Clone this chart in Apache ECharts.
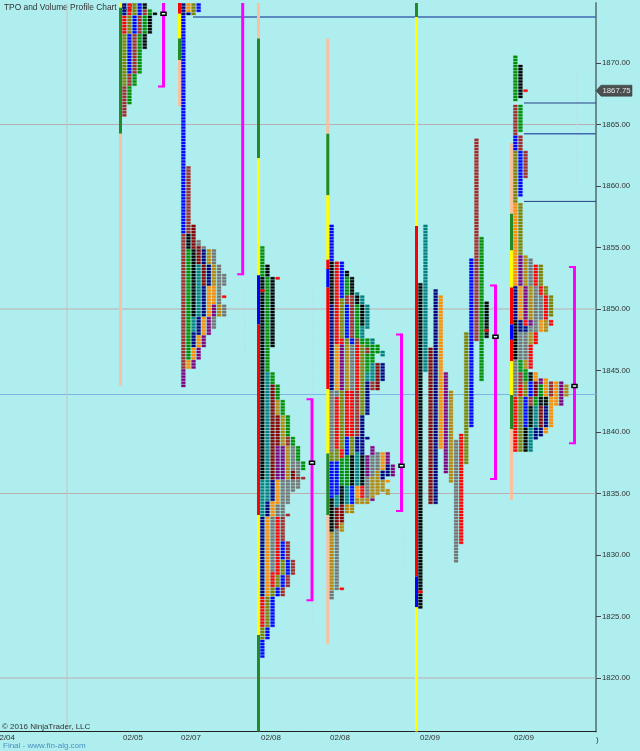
<!DOCTYPE html>
<html lang="en">

<head>
    <meta charset="UTF-8">
    <title>TPO and Volume Profile Chart</title>
    <script src="https://cdn.jsdelivr.net/npm/echarts@6/dist/echarts.min.js"></script>
    <style>
        html, body { margin: 0; padding: 0; background: #afeeee; }
    </style>
</head>

<body>
    <div id="chart" style="width: 640px;height: 751px;"></div>

    <script>
        const chartTitle = 'TPO and Volume Profile Chart (v.2)';
        const copyrightText = '© 2016 NinjaTrader, LLC';
        const footerText = 'Final - www.fin-alg.com';

        // axis labels
        const priceTicks = [1820, 1825, 1830, 1835, 1840, 1845, 1850, 1855, 1860, 1865, 1870];
        const dateTicks = [5, 133, 191, 271, 340, 430, 524];
        const dateLabels = ['02/04', '02/05', '02/07', '02/08', '02/08', '02/09', '02/09'];
        const lastPrice = 1867.75;

        // where each session starts on the x axis
        const sessionStart = [122, 181, 260, 329.3, 418, 513];

        // TPO columns, each column is a list of [period, high, low]
        const session1 = [
            [['navy', 1874.75, 1874], ['red', 1873.75, 1872.5], ['olive', 1872.25, 1868.25], ['brown', 1868, 1865.75]],
            [['red', 1874.75, 1874], ['olive', 1873.75, 1872.5], ['blue', 1872.25, 1869.25], ['brown', 1869, 1868.25], ['green', 1868, 1866.75]],
            [['olive', 1874.75, 1874], ['blue', 1873.75, 1872.5], ['brown', 1872.25, 1869.25], ['green', 1869, 1868.25]],
            [['blue', 1874.75, 1874], ['brown', 1873.75, 1872.5], ['green', 1872.25, 1869.25]],
            [['black', 1874.75, 1874.5], ['brown', 1874.25, 1874], ['green', 1873.75, 1872.5], ['black', 1872.25, 1871.25]],
            [['green', 1874.25, 1874], ['black', 1873.75, 1872.5]],
            [['black', 1874, 1874]]
        ];
        const session2 = [
            [['navy', 1874.75, 1874], ['blue', 1873.75, 1856.25], ['brown', 1856, 1845.25], ['purple', 1845, 1843.75]],
            [['orange', 1874.75, 1874.25], ['navy', 1874, 1874], ['brown', 1861.5, 1856.25], ['black', 1856, 1855], ['green', 1854.75, 1846], ['orange', 1845.75, 1845.25]],
            [['olive', 1874.75, 1874], ['darkred', 1856.75, 1855], ['black', 1854.75, 1849.5], ['teal', 1849.25, 1848.25], ['navy', 1848, 1847], ['orange', 1846.75, 1846], ['purple', 1845.75, 1845.25]],
            [['blue', 1874.75, 1874.25], ['gray', 1855.5, 1855.25], ['darkred', 1855, 1853.75], ['teal', 1853.5, 1849.5], ['navy', 1849.25, 1848], ['orange', 1847.75, 1847], ['purple', 1846.75, 1846]],
            [['gray', 1855, 1855], ['navy', 1854.75, 1853.75], ['darkred', 1853.5, 1852], ['navy', 1851.75, 1849.5], ['orange', 1849.25, 1848], ['purple', 1847.75, 1847]],
            [['gold', 1854.75, 1853.75], ['navy', 1853.5, 1852], ['orange', 1851.75, 1849.5], ['purple', 1849.25, 1848]],
            [['gray', 1854.75, 1853.75], ['gold', 1853.5, 1852], ['orange', 1851.75, 1850.5], ['purple', 1850.25, 1849.5], ['gray', 1849.25, 1848.5]],
            [['gray', 1853.5, 1850.5], ['gold', 1850.25, 1849.5]],
            [['gray', 1852.75, 1852], ['red', 1851, 1851], ['gray', 1850.25, 1849.5]]
        ];
        const session3 = [
            [['green', 1855, 1852.75], ['black', 1852.5, 1836.25], ['teal', 1836, 1833.25], ['navy', 1833, 1826.75], ['red', 1826.5, 1824.25], ['olive', 1824, 1823.25], ['blue', 1823, 1821.75], ['red', 1851.5, 1851.5]],
            [['black', 1853.5, 1852.75], ['green', 1852.5, 1845], ['teal', 1844.75, 1834.5], ['navy', 1834.25, 1833.25], ['orange', 1833, 1826.75], ['olive', 1826.5, 1824.25], ['blue', 1824, 1823.25]],
            [['black', 1852.5, 1847], ['green', 1844.75, 1844], ['darkred', 1843.75, 1836.25], ['navy', 1836, 1834.5], ['orange', 1834.25, 1833.25], ['gray', 1833, 1828.75], ['red', 1828.5, 1827.5], ['olive', 1827.25, 1826.75], ['blue', 1826.5, 1824.25]],
            [['red', 1852.5, 1852.5], ['green', 1843.75, 1842.75], ['gold', 1842.5, 1841.5], ['darkred', 1841.25, 1839], ['purple', 1838.75, 1836.25], ['orange', 1836, 1834.25], ['gray', 1834, 1833.25], ['red', 1833, 1828.5], ['olive', 1828.25, 1827.5], ['blue', 1827.25, 1826.75]],
            [['green', 1842.5, 1841.5], ['gold', 1841.25, 1839], ['purple', 1838.75, 1836.25], ['gray', 1836, 1833.25], ['brown', 1833, 1831.25], ['blue', 1831, 1829.75], ['olive', 1829.5, 1828.5], ['blue', 1828.25, 1827.5], ['brown', 1827.25, 1826.75]],
            [['green', 1841.25, 1839.75], ['brown', 1839.5, 1839], ['gold', 1838.75, 1836.25], ['gray', 1836, 1834.25], ['brown', 1833.25, 1833.25], ['brown', 1831, 1829.75], ['blue', 1829.5, 1828.5], ['brown', 1828.25, 1827.5]],
            [['green', 1839.5, 1839], ['gray', 1838.75, 1837], ['darkred', 1836.75, 1836.25], ['gray', 1836, 1835.25], ['brown', 1829.5, 1828.5]],
            [['green', 1838.75, 1837.75], ['gray', 1837.5, 1836.5], ['brown', 1836.25, 1836.25], ['gray', 1836, 1835.5]],
            [['green', 1837.5, 1837], ['brown', 1836.25, 1836.25]]
        ];
        const session4 = [
            [['blue', 1856.75, 1854], ['black', 1853.75, 1850.5], ['navy', 1850.25, 1843.5], ['gray', 1843.25, 1838.5], ['olive', 1838.25, 1837.75], ['blue', 1837.5, 1834.75], ['black', 1834.5, 1832], ['gold', 1831.75, 1827.25], ['gray', 1827, 1826.5]],
            [['red', 1853.75, 1847.25], ['orange', 1847, 1843.5], ['gray', 1843.25, 1843], ['red', 1842.75, 1838.75], ['olive', 1838.5, 1837.75], ['blue', 1837.5, 1835], ['teal', 1834.75, 1834], ['darkred', 1833.75, 1832.25], ['gray', 1832, 1827.25]],
            [['blue', 1853.75, 1851], ['olive', 1850.75, 1847.75], ['red', 1847.5, 1847.25], ['purple', 1847, 1843.5], ['olive', 1843.25, 1838.75], ['red', 1838.5, 1838], ['green', 1837.75, 1835.75], ['black', 1835.5, 1834.25], ['darkred', 1834, 1832.75], ['gold', 1832.5, 1832], ['red', 1827.25, 1827.25]],
            [['black', 1853, 1852.75], ['green', 1852.5, 1851.25], ['brown', 1851, 1850.5], ['blue', 1850.25, 1847.75], ['olive', 1847.5, 1847.25], ['gold', 1847, 1843.5], ['red', 1843.25, 1839.75], ['blue', 1839.5, 1838.25], ['green', 1838, 1835.75], ['teal', 1835.5, 1834.25], ['gold', 1834, 1833.5]],
            [['black', 1852.5, 1851.25], ['brown', 1851, 1847.75], ['blue', 1847.5, 1847.25], ['gray', 1847, 1843.5], ['red', 1843.25, 1839.75], ['olive', 1839.5, 1838.25], ['black', 1838, 1835.75], ['blue', 1835.5, 1834.25], ['gold', 1834, 1833.5]],
            [['teal', 1851.25, 1851.25], ['black', 1851, 1850.5], ['green', 1850.25, 1847.75], ['brown', 1847.5, 1847.25], ['red', 1847, 1843.5], ['brown', 1843.25, 1839.75], ['navy', 1839.5, 1838.5], ['teal', 1838.25, 1835.75], ['orange', 1835.5, 1834.75], ['gold', 1834.5, 1834.25]],
            [['teal', 1851, 1850.5], ['black', 1850.25, 1848.75], ['teal', 1848.5, 1847.75], ['green', 1847.5, 1847.25], ['olive', 1847, 1841.5], ['navy', 1841.25, 1838.25], ['black', 1838, 1835.75], ['red', 1835.5, 1834.75], ['gold', 1834.5, 1834.25]],
            [['teal', 1850.25, 1848.5], ['green', 1847.5, 1847], ['brown', 1846.75, 1846.5], ['green', 1846.25, 1845], ['teal', 1844.75, 1844.25], ['navy', 1844, 1841.5], ['navy', 1839.5, 1839.5], ['purple', 1838, 1836.5], ['gray', 1836.25, 1834.75], ['gold', 1834.5, 1834.25]],
            [['teal', 1847.5, 1847.25], ['green', 1847, 1845.75], ['teal', 1845.5, 1844.25], ['brown', 1844, 1843.5], ['purple', 1838.75, 1838.25], ['gray', 1838, 1836.5], ['gold', 1836.25, 1834.75], ['purple', 1834.5, 1834.5]],
            [['green', 1847, 1846.5], ['darkred', 1845.5, 1843.5], ['gray', 1838.25, 1837], ['gold', 1836.75, 1835]],
            [['teal', 1846.5, 1846.25], ['navy', 1845.5, 1844.25], ['orange', 1838.25, 1837], ['navy', 1836.75, 1836.25], ['gold', 1836, 1835.25]],
            [['purple', 1838.25, 1837.5], ['navy', 1837.25, 1836.5], ['orange', 1836, 1836], ['gold', 1835.25, 1835]],
            [['purple', 1837.25, 1836.5]]
        ];
        const session5 = [
            [['black', 1852, 1825.75], ['red', 1827, 1827]],
            [['teal', 1856.75, 1845]],
            [['darkred', 1846.75, 1834.25]],
            [['navy', 1851.5, 1834.25]],
            [['orange', 1851, 1838.75]],
            [['purple', 1844.75, 1836.75]],
            [['gold', 1843.25, 1836]],
            [['gray', 1839.25, 1829.5]],
            [['red', 1839.75, 1831]],
            [['olive', 1848, 1837.5]],
            [['blue', 1854, 1840.5]],
            [['brown', 1863.75, 1847.5]],
            [['green', 1855.75, 1844.25]],
            [['black', 1850.5, 1847.75], ['red', 1848.25, 1848.25]]
        ];
        const session6 = [
            [['green', 1870.5, 1867], ['brown', 1866.5, 1864.25], ['blue', 1864, 1863], ['olive', 1862.75, 1858.75], ['orange', 1858.5, 1852], ['navy', 1851.75, 1849.25], ['black', 1849, 1846], ['gray', 1845.75, 1843], ['red', 1842.75, 1838.5]],
            [['black', 1869.75, 1867.25], ['green', 1866.5, 1864.5], ['brown', 1864, 1863], ['blue', 1862.75, 1859.25], ['olive', 1858.5, 1854.5], ['purple', 1854.25, 1852], ['orange', 1851.75, 1849.25], ['navy', 1849, 1848.25], ['gray', 1848, 1846], ['green', 1845.75, 1845], ['brown', 1844.75, 1844], ['red', 1843.75, 1843], ['olive', 1842.75, 1838.5]],
            [['red', 1867.75, 1867.75], ['brown', 1862.75, 1860.75], ['gold', 1854.25, 1852], ['purple', 1851.75, 1849.25], ['red', 1849, 1848.75], ['navy', 1848.5, 1848.25], ['gray', 1848, 1846], ['gold', 1845.75, 1845.25], ['green', 1845, 1844.25], ['olive', 1844, 1843], ['blue', 1842.75, 1840.5], ['black', 1840.25, 1838.5]],
            [['gray', 1854, 1852], ['gold', 1851.75, 1849.25], ['purple', 1849, 1848.75], ['gray', 1848.5, 1848.25], ['gold', 1848, 1847.25], ['red', 1847, 1845.25], ['black', 1844.75, 1844.25], ['blue', 1844, 1843], ['brown', 1842.75, 1842.25], ['black', 1842, 1840.5], ['teal', 1840.25, 1838.5]],
            [['red', 1853.5, 1852], ['gray', 1851.75, 1848.25], ['red', 1848, 1847.25], ['orange', 1844.75, 1844.25], ['darkred', 1844, 1843], ['green', 1842.75, 1842.25], ['teal', 1842, 1840.5], ['navy', 1840.25, 1839.5]],
            [['olive', 1853.5, 1852], ['red', 1851.75, 1851.25], ['gray', 1851, 1849.25], ['orange', 1849, 1848.25], ['purple', 1844.25, 1844], ['green', 1843.75, 1843], ['black', 1842.75, 1842.25], ['darkred', 1842, 1840.5], ['navy', 1840.25, 1839.75]],
            [['olive', 1851.75, 1851.25], ['red', 1851, 1849.25], ['gold', 1849, 1848.25], ['orange', 1844.25, 1843], ['black', 1842.75, 1842.25], ['navy', 1842, 1840.5], ['orange', 1840.25, 1840]],
            [['olive', 1851, 1849.5], ['red', 1849, 1848.75], ['brown', 1844, 1843], ['orange', 1842.75, 1840.5]],
            [['orange', 1844, 1842.25]],
            [['purple', 1844, 1842.25]],
            [['gold', 1843.75, 1843]]
        ];
        const sessions = [session1, session2, session3, session4, session5, session6];

        // bar left of each session, [colour name, high, low]
        const sessionBars = [
            [['yellow', 1875, 1874.5], ['forest', 1874.5, 1864.25], ['peach', 1864.25, 1843.75]],
            [['red', 1875, 1874], ['yellow', 1874, 1872], ['forest', 1872, 1870.25], ['peach', 1870.25, 1866.5]],
            [['peach', 1875, 1872], ['forest', 1872, 1862.25], ['yellow', 1862.25, 1852.75], ['blue', 1852.75, 1848.75], ['red', 1848.75, 1833.25], ['yellow', 1833.25, 1823.5], ['forest', 1823.5, 1815]],
            [['peach', 1872, 1864.25], ['forest', 1864.25, 1859.25], ['yellow', 1859.25, 1854], ['red', 1854, 1853.25], ['blue', 1853.25, 1851.75], ['red', 1851.75, 1843.5], ['yellow', 1843.5, 1838.25], ['forest', 1838.25, 1833.25], ['peach', 1833.25, 1822.75]],
            [['forest', 1875, 1873.75], ['yellow', 1873.75, 1856.75], ['red', 1856.75, 1828.25], ['blue', 1828.25, 1825.75], ['yellow', 1825.75, 1815]],
            [['peach', 1863.5, 1857.75], ['forest', 1857.75, 1854.75], ['yellow', 1854.75, 1851.75], ['red', 1851.75, 1848.75], ['blue', 1848.75, 1847.5], ['red', 1847.5, 1845.75], ['yellow', 1845.75, 1843], ['forest', 1843, 1840.25], ['peach', 1840.25, 1834.5]]
        ];

        // value area brackets: [x, high, low], the first two run off the top
        const valueAreas = [
            [163.5, 1876, 1868],
            [242.7, 1876, 1852.75],
            [312, 1842.75, 1826.25],
            [401.5, 1848, 1833.5],
            [495.5, 1852, 1836.1],
            [574.5, 1853.5, 1839]
        ];
        // point of control marks: [x, price]
        const pocMarks = [[163.5, 1874], [312, 1837.5], [401.5, 1837.25], [495.5, 1847.75], [574.5, 1843.75]];
        // untested POC lines: [start x, price, kind]
        const nakedPocs = [[193, 1873.75, 0], [524, 1866.75, 1], [524, 1864.25, 0], [524, 1858.75, 1]];
        // horizontal reference levels
        const greyLevels = [1865, 1850, 1835, 1820];
        const blueLevels = [1843.05];
        const sessionBreaks = [67];
        // faint volume traces: [x, high, low]
        const faintTraces = [[166, 1874, 1869], [245, 1852, 1846], [313, 1851.5, 1843], [313, 1826.25, 1824.5], [403.5, 1832, 1829], [577, 1869.25, 1860]];

        const periodColors = {
            red: '#ff0000', olive: '#808000', blue: '#0000ff', brown: '#a52a2a', green: '#008f00',
            black: '#000000', teal: '#008080', darkred: '#8b0000', navy: '#000080', orange: '#ff8c00',
            purple: '#800080', gold: '#b8860b', gray: '#757575',
            yellow: '#ffff00', forest: '#228b22', peach: '#fac0a0'
        };

        // expand the columns into one cell per quarter point
        let cells = [];
        sessions.forEach((columns, s) => {
            columns.forEach((runs, c) => {
                runs.forEach(([period, high, low]) => {
                    for (let p = high; p >= low; p -= 0.25) {
                        cells.push({ value: [sessionStart[s] + c * 5.1, p], period: period });
                    }
                });
            });
        });

        let barPieces = [];
        sessionBars.forEach((pieces, s) => {
            pieces.forEach(([color, high, low]) => {
                barPieces.push({ value: [sessionStart[s] - 3, high, low], period: color });
            });
        });

        const yMin = 1815.65, yMax = 1874.88, xMax = 596;

        let myChart = echarts.init(document.getElementById('chart'));

        function levelLine(color, width, opacity) {
            return function (params, api) {
                let a = api.coord([0, api.value(0)]);
                return {
                    type: 'line',
                    shape: { x1: 0, y1: a[1], x2: 596, y2: a[1] },
                    style: { stroke: color, lineWidth: width, opacity: opacity }
                };
            };
        }

        let option = {
            backgroundColor: '#afeeee',
            animation: false,
            title: {
                text: chartTitle, left: 4, top: 4, z: 0, padding: 0,
                textStyle: { fontFamily: 'Liberation Sans', fontSize: 8.4, fontWeight: 'normal', color: '#333' }
            },
            grid: { left: 0, right: 44, top: 3, bottom: 19.5, outerBoundsMode: 'none' },
            xAxis: {
                type: 'value', min: 0, max: xMax, splitLine: { show: false },
                axisLine: { show: true, onZero: false, lineStyle: { color: '#222', width: 1 } },
                axisTick: { show: false },
                axisLabel: {
                    customValues: dateTicks, hideOverlap: false, margin: 2,
                    fontFamily: 'Liberation Sans', fontSize: 8, color: '#333',
                    formatter: v => dateLabels[dateTicks.indexOf(v)]
                }
            },
            yAxis: {
                type: 'value', position: 'right', min: yMin, max: yMax, splitLine: { show: false },
                axisLine: { show: true, onZero: false, lineStyle: { color: '#6b8c8c', width: 2 } },
                axisTick: { show: true, customValues: priceTicks, length: 5, lineStyle: { color: '#445', width: 1 } },
                axisLabel: {
                    customValues: priceTicks, margin: 6,
                    fontFamily: 'Liberation Sans', fontSize: 7.8, color: '#333',
                    formatter: v => v.toFixed(2)
                }
            },
            series: [
                // grey levels
                {
                    type: 'custom', z: 1, silent: true, clip: true, data: greyLevels.map(v => [v]), encode: { y: 0 },
                    renderItem: levelLine('#bcaeb0', 1, 1)
                },
                // blue level
                {
                    type: 'custom', z: 1, silent: true, clip: true, data: blueLevels.map(v => [v]), encode: { y: 0 },
                    renderItem: levelLine('#7fb4e6', 1.2, 1)
                },
                // session break
                {
                    type: 'custom', z: 1, silent: true, clip: true, data: sessionBreaks.map(v => [v]), encode: { x: 0 },
                    renderItem: function (params, api) {
                        let x = api.coord([api.value(0), yMin])[0];
                        return {
                            type: 'line',
                            shape: { x1: x, y1: 0, x2: x, y2: 731 },
                            style: { stroke: '#c7c2c0', lineWidth: 1 }
                        };
                    }
                },
                // faint traces
                {
                    type: 'custom', z: 1, silent: true, clip: true, data: faintTraces, encode: { x: 0, y: [1, 2] },
                    renderItem: function (params, api) {
                        let a = api.coord([api.value(0), api.value(1)]);
                        let b = api.coord([api.value(0), api.value(2)]);
                        return {
                            type: 'line',
                            shape: { x1: a[0], y1: a[1], x2: b[0], y2: b[1] },
                            style: { stroke: '#c6d6f2', lineWidth: 1, lineDash: [3, 2] }
                        };
                    }
                },
                // naked POC lines
                {
                    type: 'custom', z: 2, silent: true, clip: true, data: nakedPocs, encode: { x: 0, y: 1 },
                    renderItem: function (params, api) {
                        let a = api.coord([api.value(0), api.value(1)]);
                        let dark = api.value(2) === 1;
                        return {
                            type: 'line',
                            shape: { x1: a[0], y1: a[1], x2: 596, y2: a[1] },
                            style: { stroke: dark ? '#23407f' : '#3f68ae', lineWidth: dark ? 1 : 1.5 }
                        };
                    }
                },
                // session bars
                {
                    type: 'custom', z: 3, silent: true, clip: true, data: barPieces, encode: { x: 0, y: [1, 2] },
                    renderItem: function (params, api) {
                        let a = api.coord([api.value(0), api.value(1)]);
                        let b = api.coord([api.value(0), api.value(2)]);
                        return {
                            type: 'rect',
                            shape: { x: a[0], y: a[1], width: 3, height: b[1] - a[1] },
                            style: { fill: periodColors[barPieces[params.dataIndex].period] }
                        };
                    }
                },
                // TPO cells
                {
                    type: 'custom', z: 4, silent: true, clip: true, data: cells, encode: { x: 0, y: 1 },
                    renderItem: function (params, api) {
                        let c = api.coord([api.value(0), api.value(1)]);
                        let color = periodColors[cells[params.dataIndex].period];
                        return {
                            type: 'rect',
                            shape: { x: c[0] + 0.4, y: c[1] - 1.1, width: 3.9, height: 2.2 },
                            style: { fill: color, stroke: color, lineWidth: 0.8, strokeOpacity: 0.4 }
                        };
                    }
                },
                // value area brackets
                {
                    type: 'custom', z: 5, silent: true, clip: true, data: valueAreas, encode: { x: 0, y: [1, 2] },
                    renderItem: function (params, api) {
                        let a = api.coord([api.value(0), api.value(1)]);
                        let b = api.coord([api.value(0), api.value(2)]);
                        let style = { fill: '#ff00ff' };
                        return {
                            type: 'group',
                            children: [
                                { type: 'rect', shape: { x: a[0] - 1.5, y: a[1], width: 3, height: b[1] - a[1] }, style: style },
                                { type: 'rect', shape: { x: a[0] - 5.5, y: a[1], width: 5, height: 2 }, style: style },
                                { type: 'rect', shape: { x: a[0] - 5.5, y: b[1] - 2, width: 5, height: 2 }, style: style }
                            ]
                        };
                    }
                },
                // POC marks
                {
                    type: 'custom', z: 6, silent: true, clip: true, data: pocMarks, encode: { x: 0, y: 1 },
                    renderItem: function (params, api) {
                        let c = api.coord([api.value(0), api.value(1)]);
                        return {
                            type: 'rect',
                            shape: { x: c[0] - 2.5, y: c[1] - 1.5, width: 5, height: 3 },
                            style: { fill: '#e8ffff', stroke: '#000', lineWidth: 1.5 }
                        };
                    }
                },
                // last price tag
                {
                    type: 'custom', z: 7, silent: true, clip: false, data: [[xMax, lastPrice]], encode: { x: 0, y: 1 },
                    renderItem: function (params, api) {
                        let c = api.coord([api.value(0), api.value(1)]);
                        let x = c[0], y = c[1];
                        return {
                            type: 'group',
                            children: [
                                {
                                    type: 'polygon',
                                    shape: { points: [[x, y], [x + 5, y - 5.5], [x + 36, y - 5.5], [x + 36, y + 5.5], [x + 5, y + 5.5]] },
                                    style: { fill: '#4a5050', stroke: '#333', lineWidth: 0.5 }
                                },
                                {
                                    type: 'text',
                                    style: {
                                        x: x + 20.5, y: y, text: lastPrice.toFixed(2), fill: '#e6e6e6',
                                        font: '7.8px "Liberation Sans"', align: 'center', verticalAlign: 'middle'
                                    }
                                }
                            ]
                        };
                    }
                }
            ],
            graphic: [
                {
                    type: 'text', left: 2, top: 723, z: 10,
                    style: { text: copyrightText, fill: '#333', font: '8px "Liberation Sans"' }
                },
                {
                    type: 'text', left: 3, top: 742, z: 10,
                    style: { text: footerText, fill: '#4a90c4', font: '8px "Liberation Sans"' }
                },
                {
                    type: 'text', left: 596, top: 736, z: 10,
                    style: { text: ')', fill: '#333', font: '8px "Liberation Sans"' }
                }
            ]
        };
        myChart.setOption(option);
    </script>
</body>

</html>
